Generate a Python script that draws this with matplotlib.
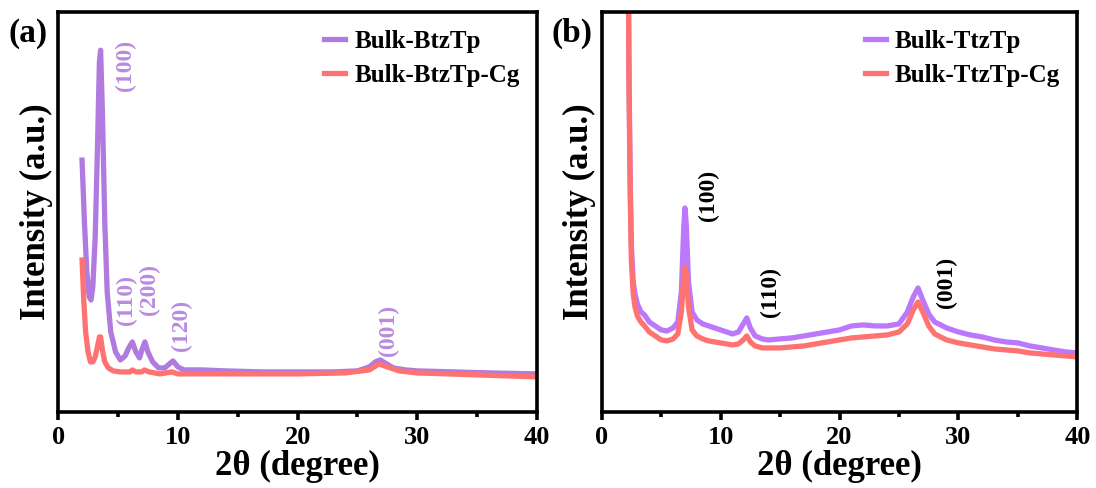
import numpy as np
import matplotlib.pyplot as plt
from matplotlib.ticker import MultipleLocator

plt.rcParams['font.family'] = ['Liberation Serif', 'DejaVu Serif']
plt.rcParams['font.weight'] = 'bold'

# ---------------- panel (a) ----------------
a_x_btz = [2.0, 2.2, 2.4, 2.6, 2.75, 2.9, 3.1, 3.3, 3.45, 3.55, 3.7, 3.9, 4.1, 4.4, 4.8,
           5.2, 5.6, 5.9, 6.2, 6.5, 6.8, 7.0, 7.25, 7.5, 7.9, 8.4, 8.9, 9.3, 9.6, 10.0,
           10.5, 11, 12, 14, 17, 20, 23, 25, 26, 26.5, 26.9, 27.3, 28, 29, 30, 33, 36, 40]
a_y_btz = [252, 190, 140, 115, 112, 125, 175, 270, 350, 362, 300, 190, 120, 80, 60,
           52, 56, 64, 70, 60, 54, 62, 70, 60, 50, 44, 44, 48, 51, 45,
           42, 42, 42, 41, 40, 40, 40, 41, 45, 50, 52, 49, 44, 42, 41, 40, 39, 38]

a_x_cg = [2.0, 2.15, 2.3, 2.5, 2.7, 2.9, 3.1, 3.3, 3.45, 3.55, 3.7, 3.9, 4.2, 4.6, 5.2,
          6.0, 6.2, 6.5, 7.0, 7.2, 7.6, 8.5, 9.5, 10, 12, 15, 20, 24, 26, 26.8, 27.5,
          28.5, 30, 35, 40]
a_y_cg = [152, 110, 80, 60, 50, 50, 55, 66, 75, 75, 62, 50, 44, 41, 40,
          40, 42, 40, 40, 42, 40, 38, 40, 38, 38, 38, 38, 39, 42, 48, 45,
          41, 39, 37, 35]

a_labels = ['(100)', '(110)', '(200)', '(120)', '(001)']
a_lab_x = [5.6, 5.7, 7.6, 10.3, 27.6]
a_lab_y = [347, 112, 122, 87, 82]

# ---------------- panel (b) ----------------
b_x = [2.2, 2.3, 2.4, 2.5, 2.65, 2.8, 3.0, 3.3, 3.6, 4.0, 4.5, 5.0, 5.5, 6.0, 6.4, 6.7,
       6.9, 7.0, 7.1, 7.3, 7.6, 8.0, 8.5, 9.0, 9.5, 10, 10.5, 11, 11.5, 11.9, 12.2,
       12.5, 12.9, 13.5, 14, 15, 16, 17, 18, 19, 20, 21, 22, 23, 24, 25, 25.7, 26.2,
       26.6, 27.0, 27.5, 28, 29, 30, 31, 32, 33, 34, 35, 36, 37, 38, 39, 40]
b_y_ttz = [520, 330, 230, 165, 130, 118, 108, 100, 97, 90, 86, 82, 81, 84, 90, 120,
           185, 204, 190, 130, 100, 92, 88, 86, 84, 82, 80, 78, 80, 88, 94,
           84, 76, 73, 72, 73, 74, 76, 78, 80, 82, 86, 87, 86, 86, 88, 100, 115,
           124, 112, 98, 90, 84, 80, 77, 75, 72, 70, 69, 66, 64, 62, 60, 59]
b_y_cg = [520, 320, 215, 150, 118, 105, 96, 90, 86, 80, 76, 72, 71, 73, 78, 100,
          135, 145, 138, 105, 82, 76, 73, 71, 70, 69, 68, 67, 68, 72, 76,
          70, 66, 64, 64, 64, 65, 66, 68, 70, 72, 74, 75, 76, 77, 80, 88, 102,
          110, 100, 86, 78, 72, 69, 67, 65, 63, 62, 61, 59, 58, 57, 56, 55]

b_labels = ['(100)', '(110)', '(001)']
b_lab_x = [9.0, 14.2, 29.0]
b_lab_y = [217, 120, 130]

purple_a = '#B07ADE'
red = '#FF7272'
purple_b = '#BB78FA'

fig = plt.figure(figsize=(10.96, 4.88), dpi=100)
ax1 = fig.add_axes([0.053, 0.156, 0.437, 0.819])
ax2 = fig.add_axes([0.549, 0.156, 0.434, 0.819])


def style(ax):
    ax.set_xlim(0, 40)
    ax.set_ylim(0, 400)
    ax.set_yticks([])
    ax.xaxis.set_major_locator(MultipleLocator(10))
    ax.xaxis.set_minor_locator(MultipleLocator(5))
    ax.tick_params(axis='x', which='major', direction='out', length=6, width=2.6,
                   labelsize=19, pad=4)
    ax.tick_params(axis='x', which='minor', direction='out', length=3.5, width=2.6)
    for sp in ax.spines.values():
        sp.set_linewidth(2.6)
    ax.set_xlabel('2θ (degree)', fontsize=25, fontweight='bold', labelpad=1)
    ax.set_ylabel('Intensity (a.u.)', fontsize=25, fontweight='bold', labelpad=4)


ax1.plot(a_x_btz, a_y_btz, color=purple_a, lw=3.8, label='Bulk-BtzTp')
ax1.plot(a_x_cg, a_y_cg, color=red, lw=3.8, label='Bulk-BtzTp-Cg')
for t, x, y in zip(a_labels, a_lab_x, a_lab_y):
    ax1.text(x, y, t, rotation=90, ha='center', va='center', fontsize=17,
             fontweight='bold', color='#B98BE0')
style(ax1)
ax1.legend(loc='upper right', frameon=False, handlelength=0.85,
           borderaxespad=0.3, labelspacing=0.45, handletextpad=0.35,
           prop={'weight': 'bold', 'size': 18})
fig.text(0.008, 0.915, '(a)', fontsize=24, fontweight='bold')

ax2.plot(b_x, b_y_ttz, color=purple_b, lw=3.8, label='Bulk-TtzTp')
ax2.plot(b_x, b_y_cg, color=red, lw=3.8, label='Bulk-TtzTp-Cg')
for t, x, y in zip(b_labels, b_lab_x, b_lab_y):
    ax2.text(x, y, t, rotation=90, ha='center', va='center', fontsize=17,
             fontweight='bold', color='black')
style(ax2)
ax2.legend(loc='upper right', frameon=False, handlelength=0.85,
           borderaxespad=0.3, labelspacing=0.45, handletextpad=0.35,
           prop={'weight': 'bold', 'size': 18})
fig.text(0.503, 0.915, '(b)', fontsize=24, fontweight='bold')

plt.savefig('out.png', dpi=100)
